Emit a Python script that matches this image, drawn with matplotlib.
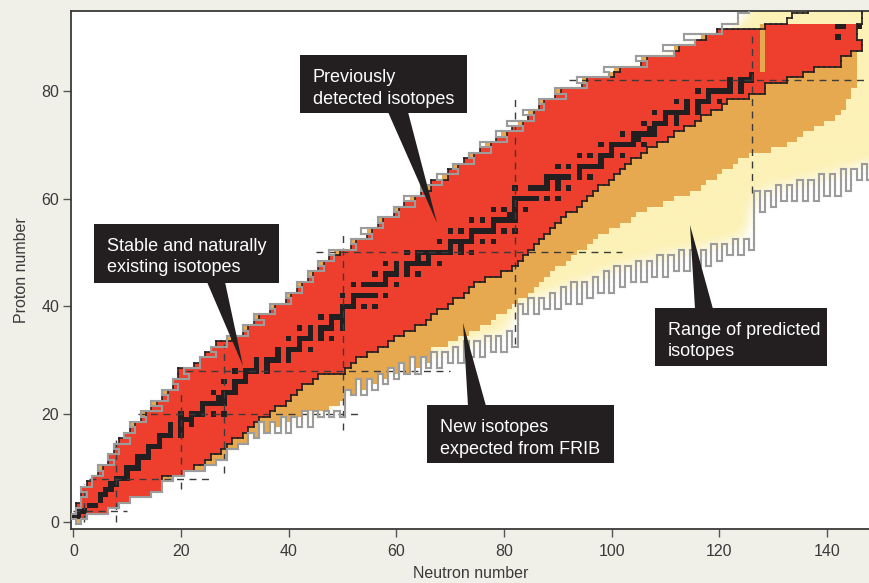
"""Chart of nuclides: known, FRIB-reachable and predicted isotopes."""
import numpy as np
import matplotlib
matplotlib.use("Agg")
import matplotlib.pyplot as plt
from matplotlib.collections import LineCollection
from matplotlib.colors import ListedColormap, to_rgb
from matplotlib.patches import Polygon, Rectangle

BG = "#f1f0e8"
YELLOW = "#fcf1b6"
ORANGE = "#e6a94f"
RED = "#ee3e2d"
BLACK = "#231f20"
GRAY = "#9c9c9c"
TXT = "#3a3a3a"

# ---- data (rows are proton number Z = 0..95, columns neutron number N) ----
known_lo = [1, 0, 1, 1, 2, 2, 2, 3, 4, 5,
            6, 7, 7, 8, 8, 9, 10, 11, 12, 13,
            14, 15, 16, 17, 18, 19, 19, 20, 20, 23,
            24, 25, 26, 27, 30, 32, 33, 34, 35, 37,
            38, 40, 41, 42, 43, 44, 45, 46, 47, 48,
            50, 52, 53, 55, 56, 57, 58, 60, 61, 62,
            64, 65, 67, 67, 70, 70, 72, 73, 75, 76,
            78, 79, 81, 82, 84, 85, 86, 87, 88, 90,
            91, 95, 96, 101, 102, 106, 107, 112, 113, 116,
            118, 120, 129, 133, 134, 137]
known_hi = [1, 2, 6, 8, 10, 14, 16, 16, 16, 20,
            22, 24, 25, 27, 28, 29, 31, 32, 33, 34,
            36, 37, 39, 40, 41, 42, 44, 45, 50, 51,
            52, 54, 56, 58, 59, 61, 63, 65, 66, 67,
            69, 70, 72, 73, 74, 76, 79, 81, 82, 83,
            84, 85, 86, 87, 88, 89, 90, 91, 93, 94,
            95, 96, 97, 99, 100, 101, 102, 103, 105, 106,
            108, 110, 111, 113, 115, 116, 118, 120, 121, 125,
            128, 128, 132, 135, 137, 142, 142, 144, 146, 146,
            145, 145, 145, 146, 146, 146]
known_fill_top = 92          # rows above are outlined but not coloured
gap_n = 128                  # column of unobserved isotopes at the top right
gap_z = [84, 85, 86, 87, 88, 89, 90, 91]

frib_lo = [1, 0, 1, 1, 2, 2, 2, 3, 3, 4,
           5, 6, 6, 7, 7, 8, 9, 10, 11, 12,
           13, 14, 15, 16, 17, 18, 18, 19, 19, 22,
           23, 24, 25, 26, 29, 31, 32, 33, 34, 36,
           37, 39, 40, 41, 42, 43, 44, 45, 46, 47,
           49, 51, 52, 54, 55, 56, 57, 59, 60, 61,
           63, 64, 66, 66, 69, 69, 71, 72, 74, 75,
           77, 78, 80, 81, 83, 84, 85, 86, 87, 89,
           90, 94, 95, 100, 101, 105, 106, 111, 112, 115,
           117, 119, 128, 0, 0, 0]
frib_hi = [1, 2, 6, 8, 10, 14, 16, 17, 18, 22,
           24, 26, 28, 30, 31, 33, 34, 36, 38, 40,
           43, 47, 49, 51, 53, 55, 57, 59, 62, 64,
           66, 66, 66, 69, 71, 73, 75, 77, 78, 80,
           81, 82, 84, 85, 86, 87, 88, 89, 91, 92,
           93, 95, 96, 97, 99, 101, 103, 104, 106, 109,
           111, 114, 116, 117, 119, 120, 122, 123, 125, 129,
           132, 134, 135, 137, 139, 141, 142, 143, 143, 144,
           144, 145, 145, 145, 145, 145, 145, 145, 145, 145,
           145, 145, 145, -1, -1, -1]

# predicted proton drip line: lightest bound N for each Z
drip_p = [1, 0, 1, 2, 2, 3, 2, 4, 4, 6,
          5, 8, 7, 9, 8, 11, 10, 12, 11, 14,
          13, 17, 15, 18, 17, 20, 19, 22, 21, 24,
          24, 27, 26, 29, 29, 33, 32, 36, 34, 38,
          37, 41, 40, 43, 42, 45, 44, 47, 46, 49,
          48, 53, 52, 56, 54, 58, 57, 61, 60, 64,
          62, 66, 65, 69, 68, 72, 71, 75, 74, 78,
          76, 81, 79, 84, 81, 86, 84, 88, 87, 92,
          90, 96, 94, 100, 99, 107, 105, 112, 110, 116,
          114, 121, 121, 124, 124, 126]
# predicted neutron drip line: lowest bound Z for each N = 0..149
drip_n = [1, 0, 1, 2, 2, 2, 2, 3, 3, 4,
          4, 5, 5, 5, 5, 6, 6, 8, 8, 9,
          9, 10, 10, 10, 10, 11, 11, 12, 12, 14,
          14, 15, 15, 17, 16, 19, 17, 19, 17, 20,
          17, 20, 18, 21, 18, 21, 20, 21, 20, 21,
          20, 25, 24, 27, 24, 27, 25, 28, 26, 29,
          27, 30, 28, 31, 28, 31, 29, 32, 29, 32,
          30, 33, 30, 34, 31, 34, 31, 35, 32, 35,
          32, 36, 33, 41, 39, 42, 39, 42, 40, 43,
          40, 44, 41, 45, 41, 45, 42, 46, 43, 47,
          43, 48, 44, 48, 45, 49, 45, 49, 46, 50,
          46, 50, 47, 51, 47, 51, 48, 51, 48, 52,
          49, 52, 50, 53, 50, 53, 51, 62, 58, 62,
          59, 63, 60, 63, 60, 64, 60, 64, 60, 65,
          61, 65, 61, 66, 62, 66, 64, 67, 64, 67]

# stable / primordial isotopes: N values for each Z
stable_n = [[], [0, 1], [1, 2], [3, 4], [5], [5, 6], [6, 7], [7, 8], [8, 9, 10], [10],
            [10, 11, 12], [12], [12, 13, 14], [14], [14, 15, 16], [16], [16, 17, 18, 20],
            [18, 20], [18, 20, 22], [20, 21, 22], [20, 22, 23, 24, 26, 28], [24],
            [24, 25, 26, 27, 28], [27, 28], [26, 28, 29, 30], [30], [28, 30, 31, 32], [32],
            [30, 32, 33, 34, 36], [34, 36], [34, 36, 37, 38, 40], [38, 40],
            [38, 40, 41, 42, 44], [42], [40, 42, 43, 44, 46, 48], [44, 46],
            [42, 44, 46, 47, 48, 50], [48, 50], [46, 48, 49, 50], [50],
            [50, 51, 52, 54, 56], [52], [50, 52, 53, 54, 55, 56, 58], [],
            [52, 54, 55, 56, 57, 58, 60], [58], [56, 58, 59, 60, 62, 64], [60, 62],
            [58, 60, 62, 63, 64, 65, 66, 68], [64, 66],
            [62, 64, 65, 66, 67, 68, 69, 70, 72, 74], [70, 72],
            [68, 70, 71, 72, 73, 74, 76, 78], [74],
            [70, 72, 74, 75, 76, 77, 78, 80, 82], [78], [74, 76, 78, 79, 80, 81, 82],
            [81, 82], [78, 80, 82, 84], [82], [82, 83, 84, 85, 86, 88, 90], [],
            [82, 85, 86, 87, 88, 90, 92], [88, 90], [88, 89, 90, 91, 92, 94, 96], [94],
            [90, 92, 94, 95, 96, 97, 98], [98], [94, 96, 98, 99, 100, 102], [100],
            [98, 100, 101, 102, 103, 104, 106], [104, 105],
            [102, 104, 105, 106, 107, 108], [107, 108], [106, 108, 109, 110, 112],
            [110, 112], [108, 110, 111, 112, 113, 114, 116], [114, 116],
            [112, 114, 116, 117, 118, 120], [118], [116, 118, 119, 120, 121, 122, 124],
            [122, 124], [122, 124, 125, 126], [126], [], [], [], [], [], [], [142],
            [], [142, 143, 146], [], [], []]

# magic-number guide lines: (Z, N from, N to) and (N, Z from, Z to)
magic_rows = [(2, 0, 10), (8, 3, 26), (20, 12, 53), (28, 21, 70), (50, 45, 102), (82, 92, 149)]
magic_cols = [(2, 0, 7), (8, 0, 16), (20, 6, 24), (28, 9, 33), (50, 17, 54), (82, 33, 79),
              (126, 61, 91)]

labels = ["Previously\ndetected isotopes", "Stable and naturally\nexisting isotopes",
          "New isotopes\nexpected from FRIB", "Range of predicted\nisotopes"]


def gaussian_blur(a, sigma, pad=14):
    r = int(3 * sigma) + 1
    x = np.arange(-r, r + 1)
    k = np.exp(-0.5 * (x / sigma) ** 2)
    k /= k.sum()
    p = np.pad(a, pad, mode="edge")
    p = np.apply_along_axis(lambda v: np.convolve(v, k, mode="same"), 0, p)
    p = np.apply_along_axis(lambda v: np.convolve(v, k, mode="same"), 1, p)
    return p[pad:-pad, pad:-pad]


def cell_edges(mask):
    m = np.pad(mask, 1)
    segs = []
    rr, cc = np.nonzero(m[:, 1:] != m[:, :-1])
    for r, c in zip(rr, cc):
        z = r - 1
        segs.append([(c - 0.5, z - 0.5), (c - 0.5, z + 0.5)])
    rr, cc = np.nonzero(m[1:, :] != m[:-1, :])
    for r, c in zip(rr, cc):
        n = c - 1
        segs.append([(n - 0.5, r - 0.5), (n + 0.5, r - 0.5)])
    return segs


n_count = len(drip_n)
z_count = len(drip_p)
N, Z = np.meshgrid(np.arange(n_count), np.arange(z_count))
col = lambda v: np.array(v)[:, None]

pred = (N >= col(drip_p)) & (Z >= np.array(drip_n)[None, :])
known_line = (N >= col(known_lo)) & (N <= col(known_hi))
known_fill = known_line & (Z >= 1) & (Z <= known_fill_top)
known_fill[gap_z, gap_n] = False
frib = (N >= col(frib_lo)) & (N <= col(frib_hi)) & pred & ~known_fill

cat = np.zeros((z_count, n_count))
cat[frib] = 1
cat[known_fill] = 2
for z, ns in enumerate(stable_n):
    for n in ns:
        cat[z, n] = 3

# ---- figure ----
W, H = 870, 583
fig = plt.figure(figsize=(W / 100, H / 100), dpi=100, facecolor=BG)
ax = fig.add_axes((71 / W, 54 / H, 799 / W, 518 / H), facecolor="white")

# predicted range: soft yellow glow fading towards the drip line
glow = gaussian_blur(pred.astype(float), 2.1)
alpha = np.clip((glow - 0.5) / 0.38, 0, 1)
rgba = np.zeros((z_count, n_count, 4))
rgba[..., :3] = to_rgb(YELLOW)
rgba[..., 3] = alpha
ax.imshow(rgba, origin="lower", interpolation="bilinear", aspect="auto",
          extent=(-0.5, n_count - 0.5, -0.5, z_count - 0.5), zorder=1)

ax.pcolormesh(np.arange(n_count + 1) - 0.5, np.arange(z_count + 1) - 0.5,
              np.ma.masked_equal(cat, 0),
              cmap=ListedColormap([ORANGE, RED, BLACK]), vmin=0.5, vmax=3.5,
              zorder=2, edgecolors="none", antialiased=False)

dash = dict(color="#3b3b3b", lw=1.0, dashes=(5, 4), zorder=3)
for z, n0, n1 in magic_rows:
    ax.plot([n0, n1], [z, z], **dash)
for n, z0, z1 in magic_cols:
    ax.plot([n, n], [z0, z1], **dash)

lc = LineCollection(cell_edges(known_line), colors=BLACK, linewidths=1.2, zorder=4)
lc.set_capstyle("projecting")
ax.add_collection(lc)
lc = LineCollection(cell_edges(pred), colors=GRAY, linewidths=1.5, zorder=5)
lc.set_capstyle("projecting")
ax.add_collection(lc)

ax.set_xlim(-0.43, 147.97)
ax.set_ylim(-1.36, 94.84)
ax.set_xticks(range(0, 141, 20))
ax.set_yticks(range(0, 81, 20))
ax.spines["right"].set_visible(False)
for s in ("left", "bottom", "top"):
    ax.spines[s].set_color("#3a3a3a")
    ax.spines[s].set_linewidth(1.3)
ax.tick_params(length=5.5, width=1.0, color="#555555", labelcolor=TXT,
               labelsize=11.5, direction="out")
ax.tick_params(axis="x", pad=5.5)
ax.tick_params(axis="y", pad=3)
for lab in ax.get_xticklabels() + ax.get_yticklabels():
    lab.set_fontfamily("Liberation Sans")
ax.set_xlabel("Neutron number", fontsize=11.5, color=TXT, family="Liberation Sans",
              labelpad=5)
ax.set_ylabel("Proton number", fontsize=11.5, color=TXT, family="Liberation Sans",
              labelpad=9)

# ---- callout boxes (pixel layout) ----
def fp(x, y):
    return (x / W, 1 - y / H)


callouts = [
    # box (x0, y0, x1, y1), pointer base (xa, xb, y), tip (x, y)
    ((300, 55, 467, 113), (388, 408, 112), (437, 223)),
    ((94, 224, 279, 283), (207, 225, 282), (243, 366)),
    ((427, 405, 614, 463), (468, 486, 406), (463, 323)),
    ((655, 308, 827, 366), (695, 713, 309), (690, 225)),
]
for text, (box, base, tip) in zip(labels, callouts):
    x0, y0, x1, y1 = box
    fig.add_artist(Polygon([fp(base[0], base[2]), fp(base[1], base[2]), fp(*tip)],
                           closed=True, transform=fig.transFigure,
                           facecolor=BLACK, edgecolor="none", zorder=20))
    fig.add_artist(Rectangle(fp(x0, y1), (x1 - x0) / W, (y1 - y0) / H,
                             transform=fig.transFigure, facecolor=BLACK,
                             edgecolor="none", zorder=20))
    for i, line in enumerate(text.split("\n")):
        fig.text(*fp(x0 + 13, y0 + 27 + 21.5 * i), line, color="white",
                 fontsize=13, family="Liberation Sans", ha="left", va="baseline",
                 zorder=21)

fig.savefig("out.png", dpi=100, facecolor=BG)
